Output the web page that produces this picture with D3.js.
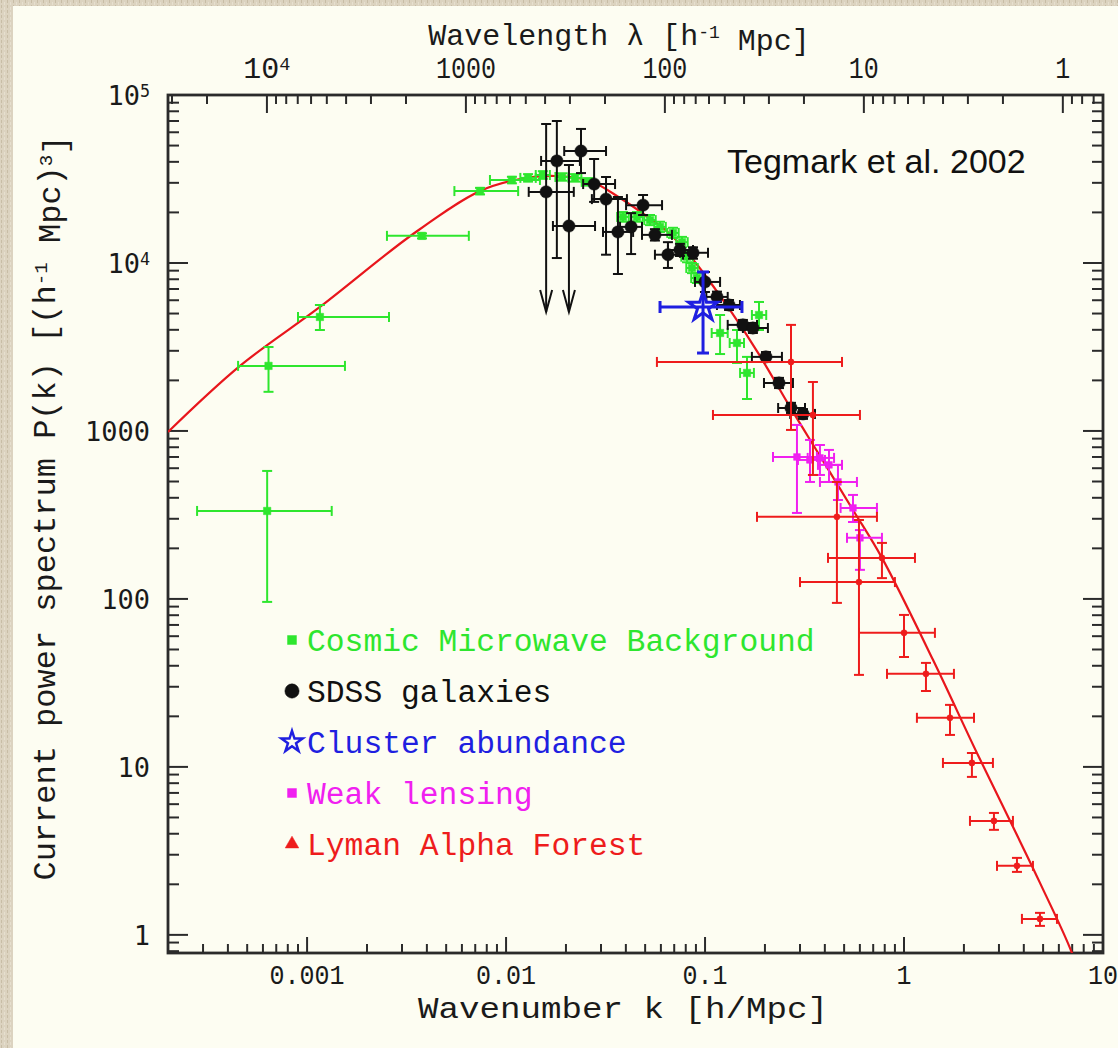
<!DOCTYPE html>
<html>
<head>
<meta charset="utf-8">
<script src="https://cdn.jsdelivr.net/npm/d3@7"></script>
<style>
  body { margin: 0; background: #d8cfbb; }
  svg { display: block; }
</style>
</head>
<body>
<svg id="chart" width="1118" height="1048"></svg>
<script>

// --- data: [k, kLow, kHigh, P, PLow, PHigh] ---

var cmbPoints = [
    [6.3e-4, 2.8e-4, 1.33e-3, 334, 96, 578],
    [6.4e-4, 4.5e-4, 1.55e-3, 2440, 1710, 3160],
    [1.16e-3, 9.0e-4, 2.58e-3, 4770, 3990, 5620],
    [3.78e-3, 2.52e-3, 6.5e-3, 14500, 14000, 15000],
    [7.4e-3, 5.5e-3, 0.0115, 26800, 25600, 28000],
    [0.0107, 8.3e-3, 0.0148, 31200, 29800, 32600],
    [0.0129, 0.0118, 0.0141, 32100, 30500, 33800],
    [0.0153, 0.0141, 0.0166, 33400, 31700, 35200],
    [0.0191, 0.0177, 0.0206, 32500, 30900, 34200],
    [0.0222, 0.0206, 0.0239, 32100, 30500, 33800],
    [0.0258, 0.0240, 0.0277, 30400, 28900, 32000],
    [0.0387, 0.0362, 0.0414, 18800, 17600, 20100],
    [0.0455, 0.0426, 0.0486, 18800, 17600, 20100],
    [0.0529, 0.0495, 0.0565, 18000, 16800, 19300],
    [0.0594, 0.0556, 0.0635, 16400, 15300, 17600],
    [0.069, 0.0646, 0.0737, 15100, 14100, 16200],
    [0.0766, 0.0717, 0.0818, 13300, 12400, 14300],
    [0.0812, 0.0760, 0.0868, 10900, 10100, 11800],
    [0.086, 0.0805, 0.0919, 9340, 8700, 10000],
    [0.091, 0.0852, 0.0972, 8140, 7600, 8700],
    [0.119, 0.108, 0.130, 3830, 2870, 4900],
    [0.1447, 0.133, 0.157, 3340, 2540, 3990],
    [0.1625, 0.150, 0.176, 2215, 1550, 2760],
    [0.1867, 0.172, 0.203, 4900, 3990, 5860]
];

// last column: 1 = upper limit (arrow)
var sdssPoints = [
    [0.0159, 0.0130, 0.0219, 26500, 5110, 67200, 1],
    [0.0180, 0.0150, 0.0235, 40500, 10700, 70000, 0],
    [0.0207, 0.0172, 0.0280, 16600, 5110, 38300, 1],
    [0.0238, 0.0196, 0.0318, 46400, 34300, 62800, 0],
    [0.0277, 0.0244, 0.0353, 29500, 23100, 41600, 0],
    [0.0318, 0.0270, 0.0405, 24000, 11200, 32500, 0],
    [0.0365, 0.0307, 0.0435, 15300, 8600, 24700, 0],
    [0.0425, 0.0374, 0.0482, 16400, 11300, 19800, 0],
    [0.0488, 0.0401, 0.0608, 22100, 19300, 25400, 0],
    [0.0560, 0.0482, 0.0682, 14700, 13600, 15900, 0],
    [0.0651, 0.0560, 0.0775, 11200, 9340, 13300, 0],
    [0.0748, 0.0651, 0.0870, 11950, 11000, 13000, 0],
    [0.0870, 0.0748, 0.1035, 11500, 10600, 12400, 0],
    [0.0999, 0.0890, 0.119, 7710, 6720, 8840, 0],
    [0.1148, 0.1015, 0.130, 6280, 5850, 6750, 0],
    [0.132, 0.1148, 0.1498, 5620, 5250, 6020, 0],
    [0.155, 0.130, 0.1824, 4280, 4000, 4580, 0],
    [0.174, 0.155, 0.207, 4100, 3830, 4390, 0],
    [0.2024, 0.172, 0.2435, 2760, 2580, 2950, 0],
    [0.2353, 0.1978, 0.2766, 1930, 1800, 2070, 0],
    [0.2704, 0.233, 0.318, 1370, 1280, 1470, 0],
    [0.3106, 0.268, 0.357, 1263, 1180, 1350, 0]
];

var clusterPoints = [
    [0.0977, 0.0594, 0.1533, 5470, 2910, 8840]
];

var lensingPoints = [
    [0.2897, 0.2195, 0.365, 700, 325, 1086],
    [0.3368, 0.293, 0.4007, 672, 497, 884],
    [0.378, 0.328, 0.445, 691, 547, 825],
    [0.4196, 0.3694, 0.488, 628, 497, 771],
    [0.4656, 0.378, 0.58, 497, 388, 628],
    [0.554, 0.48, 0.731, 348, 287, 416],
    [0.6005, 0.517, 0.7746, 231, 149, 257]
];

var lymanPoints = [
    [0.2704, 0.0573, 0.488, 2575, 1014, 4280],
    [0.3485, 0.1096, 0.6005, 1245, 547, 1957],
    [0.460, 0.1824, 0.731, 308, 94.7, 497],
    [0.7746, 0.4148, 1.135, 175.5, 133, 215.5],
    [0.5937, 0.30, 0.90, 126, 35.3, 295],
    [1.0, 0.594, 1.43, 62.8, 45.1, 80.3],
    [1.289, 0.821, 1.782, 35.8, 28.3, 41.6],
    [1.702, 1.161, 2.247, 19.6, 15.5, 23.4],
    [2.194, 1.569, 2.798, 10.56, 8.72, 12.1],
    [2.831, 2.145, 3.527, 4.77, 4.22, 5.32],
    [3.695, 2.932, 4.446, 2.575, 2.371, 2.873],
    [4.822, 3.914, 5.87, 1.245, 1.131, 1.352]
];

// model curve, traced
var modelK = [2.0e-4, 4.6e-4, 1.16e-3, 3.41e-3, 7.4e-3, 0.01175, 0.0176, 0.0264, 0.0374, 0.0499,
              0.0666, 0.089, 0.1334, 0.1888, 0.2672, 0.378, 0.554, 0.7746, 1.398, 2.325, 3.527, 4.822, 6.98, 7.6];
var modelP = [986, 2440, 5470, 14880, 26800, 31600, 32950, 30780, 24370, 19300,
              14880, 10140, 5250, 2796, 1390, 710, 338.6, 175.5, 43.4, 12.1, 4.40, 2.04, 0.78, 0.55];

var xTickLabels = [0.001, 0.01, 0.1, 1, 10];
var yTickLabels = [1, 10, 100, 1000, 1e4, 1e5];
var topTickLabels = [1e4, 1000, 100, 10, 1];

var legendNames = ['Cosmic Microwave Background', 'SDSS galaxies', 'Cluster abundance', 'Weak lensing', 'Lyman Alpha Forest'];
var legendColors = ['#2ee62e', '#111111', '#1f1fe0', '#f020f0', '#ee1c1c'];
var legendShapes = ['square', 'circle', 'star', 'square', 'triangle'];

// --- layout ---

var svg = d3.select('#chart');
var plotLeft = 168, plotRight = 1103, plotTop = 95, plotBottom = 953;
var axisColor = '#2b2b2b';

var x = d3.scaleLog().domain([2e-4, 10]).range([plotLeft, plotRight]);
var y = d3.scaleLog().domain([0.78, 1e5]).range([plotBottom, plotTop]);
// top axis: wavelength = 2 pi / k
var lam = d3.scaleLog().domain([2 * Math.PI / 2e-4, 2 * Math.PI / 10]).range([plotLeft, plotRight]);

/* background */

var defs = svg.append('defs');

var pat = defs.append('pattern')
    .attr('id', 'paper')
    .attr('width', 6).attr('height', 5)
    .attr('patternUnits', 'userSpaceOnUse');
pat.append('rect').attr('width', 6).attr('height', 5).attr('fill', '#dcd3c0');
pat.append('rect').attr('x', 1).attr('y', 0).attr('width', 1).attr('height', 3).attr('fill', '#c8bda6');
pat.append('rect').attr('x', 4).attr('y', 2).attr('width', 1).attr('height', 3).attr('fill', '#e6dfcf');

svg.append('rect')
    .attr('width', 1118).attr('height', 1048)
    .attr('fill', 'url(#paper)');

svg.append('rect')
    .attr('x', 13).attr('y', 6)
    .attr('width', 1105).attr('height', 1042)
    .attr('fill', '#fdfdf2');

defs.append('clipPath').attr('id', 'plotClip')
    .append('rect')
    .attr('x', plotLeft).attr('y', plotTop)
    .attr('width', plotRight - plotLeft).attr('height', plotBottom - plotTop);

function isMajor ( t ) {
    var l = Math.log10( t );
    return Math.abs( l - Math.round( l ) ) < 1e-6;
}

/* ticks */

var ticks = svg.append('g')
    .attr('stroke', axisColor)
    .attr('stroke-width', 2);

x.ticks().forEach(function ( t ) {
    var len = isMajor( t ) ? 16 : 9;
    ticks.append('line')
        .attr('x1', x( t )).attr('x2', x( t ))
        .attr('y1', plotBottom).attr('y2', plotBottom - len);
});

lam.ticks().forEach(function ( t ) {
    var len = isMajor( t ) ? 18 : 9;
    ticks.append('line')
        .attr('x1', lam( t )).attr('x2', lam( t ))
        .attr('y1', plotTop).attr('y2', plotTop + len);
});

y.ticks().forEach(function ( t ) {
    var len = isMajor( t ) ? 20 : 11;
    ticks.append('line')
        .attr('x1', plotLeft).attr('x2', plotLeft + len)
        .attr('y1', y( t )).attr('y2', y( t ));
    ticks.append('line')
        .attr('x1', plotRight).attr('x2', plotRight - len)
        .attr('y1', y( t )).attr('y2', y( t ));
});

svg.append('rect')
    .attr('x', plotLeft).attr('y', plotTop)
    .attr('width', plotRight - plotLeft).attr('height', plotBottom - plotTop)
    .attr('fill', 'none')
    .attr('stroke', axisColor)
    .attr('stroke-width', 2.8);

/* tick labels */

function labelText ( sel, v ) {
    if ( v >= 1e4 ) {
        sel.text('10');
        sel.append('tspan')
            .attr('dy', '-0.45em')
            .style('font-size', '0.62em')
            .text( Math.round( Math.log10( v ) ) );
    } else {
        sel.text( String( v ) );
    }
}

var tickFont = '"Liberation Mono", "DejaVu Sans Mono", monospace';

xTickLabels.forEach(function ( v ) {
    var t = svg.append('text')
        .attr('x', x( v )).attr('y', 984)
        .attr('text-anchor', 'middle')
        .style('font-family', tickFont)
        .style('font-size', '28px')
        .style('fill', '#1a1a1a')
        .attr('textLength', String( v ).length * 15)
        .attr('lengthAdjust', 'spacingAndGlyphs');
    labelText( t, v );
});

topTickLabels.forEach(function ( v ) {
    var t = svg.append('text')
        .attr('x', lam( v )).attr('y', 78)
        .attr('text-anchor', 'middle')
        .style('font-family', tickFont)
        .style('font-size', '30px')
        .style('fill', '#1a1a1a');
    labelText( t, v );
    if ( v < 1e4 ) {
        t.attr('textLength', String( v ).length * 15)
         .attr('lengthAdjust', 'spacingAndGlyphs');
    }
});

yTickLabels.forEach(function ( v ) {
    var t = svg.append('text')
        .attr('x', 150).attr('y', y( v ))
        .attr('dy', '0.36em')
        .attr('text-anchor', 'end')
        .style('font-family', '"DejaVu Sans Mono", monospace')
        .style('font-size', '27px')
        .style('fill', '#1a1a1a');
    labelText( t, v );
});

/* axis titles */

var topTitle = svg.append('text')
    .attr('x', 619).attr('y', 45)
    .attr('text-anchor', 'middle')
    .style('font-family', tickFont)
    .style('font-size', '30px')
    .style('fill', '#1a1a1a')
    .text('Wavelength \u03bb [h');
topTitle.append('tspan').attr('dy', '-0.4em').style('font-size', '0.6em').text('-1');
topTitle.append('tspan').attr('dy', '0.4em').text(' Mpc]');

svg.append('text')
    .attr('x', 623).attr('y', 1018)
    .attr('text-anchor', 'middle')
    .style('font-family', tickFont)
    .style('font-size', '30px')
    .style('fill', '#1a1a1a')
    .attr('textLength', 410)
    .attr('lengthAdjust', 'spacingAndGlyphs')
    .text('Wavenumber k [h/Mpc]');

var yTitle = svg.append('text')
    .attr('transform', 'translate(55,508) rotate(-90)')
    .attr('text-anchor', 'middle')
    .style('font-family', tickFont)
    .style('font-size', '32px')
    .style('fill', '#1a1a1a')
    .text('Current power spectrum P(k) [(h');
yTitle.append('tspan').attr('dy', '-0.4em').style('font-size', '0.6em').text('-1');
yTitle.append('tspan').attr('dy', '0.4em').text(' Mpc)');
yTitle.append('tspan').attr('dy', '-0.4em').style('font-size', '0.6em').text('3');
yTitle.append('tspan').attr('dy', '0.4em').text(']');

svg.append('text')
    .attr('x', 727).attr('y', 173)
    .style('font-family', '"Liberation Sans", Arial, sans-serif')
    .style('font-size', '34px')
    .style('fill', '#111')
    .text('Tegmark et al. 2002');

/* data */

var plot = svg.append('g').attr('clip-path', 'url(#plotClip)');

var line = d3.line()
    .x(function ( d ) { return x( d[0] ); })
    .y(function ( d ) { return y( d[1] ); })
    .curve( d3.curveCatmullRom );

plot.append('path')
    .datum( d3.zip( modelK, modelP ) )
    .attr('d', line)
    .attr('fill', 'none')
    .attr('stroke', '#e8161c')
    .attr('stroke-width', 2.2);

function errorBars ( data, color, width, cap ) {

    var g = plot.append('g')
        .attr('stroke', color)
        .attr('stroke-width', width)
        .attr('fill', 'none');

    data.forEach(function ( d ) {
        var cx = x( d[0] ), cy = y( d[3] );
        var x0 = x( d[1] ), x1 = x( d[2] );
        var y0 = y( d[4] ), y1 = y( d[5] );
        var limit = d[6] === 1;

        g.append('line').attr('x1', x0).attr('x2', x1).attr('y1', cy).attr('y2', cy);
        g.append('line').attr('x1', x0).attr('x2', x0).attr('y1', cy - cap).attr('y2', cy + cap);
        g.append('line').attr('x1', x1).attr('x2', x1).attr('y1', cy - cap).attr('y2', cy + cap);
        g.append('line').attr('x1', cx).attr('x2', cx).attr('y1', y0).attr('y2', y1);
        g.append('line').attr('x1', cx - cap).attr('x2', cx + cap).attr('y1', y1).attr('y2', y1);

        if ( limit ) {
            g.append('path')
                .attr('d', 'M' + (cx - 6) + ',' + (y0 - 22) + 'L' + cx + ',' + y0 + 'L' + (cx + 6) + ',' + (y0 - 22));
        } else {
            g.append('line').attr('x1', cx - cap).attr('x2', cx + cap).attr('y1', y0).attr('y2', y0);
        }
    });

    return g;
}

var shapeTypes = { square: d3.symbolSquare, circle: d3.symbolCircle, triangle: d3.symbolTriangle, star: d3.symbolStar };

function markers ( data, color, shape, size ) {

    var sym = d3.symbol().type( shapeTypes[ shape ] ).size( size );

    plot.append('g').selectAll('path')
        .data( data )
        .enter().append('path')
        .attr('transform', function ( d ) { return 'translate(' + x( d[0] ) + ',' + y( d[3] ) + ')'; })
        .attr('d', sym)
        .attr('fill', shape === 'star' ? 'none' : color)
        .attr('stroke', color)
        .attr('stroke-width', shape === 'star' ? 3 : 0.5);
}

errorBars( cmbPoints, legendColors[0], 2, 5 );
markers( cmbPoints, legendColors[0], 'square', 55 );

errorBars( sdssPoints, legendColors[1], 2, 5 );
markers( sdssPoints, legendColors[1], 'circle', 120 );

errorBars( clusterPoints, legendColors[2], 3, 6 );
markers( clusterPoints, legendColors[2], 'star', 260 );

errorBars( lensingPoints, legendColors[3], 2, 5 );
markers( lensingPoints, legendColors[3], 'square', 45 );

errorBars( lymanPoints, legendColors[4], 2, 5 );
markers( lymanPoints, legendColors[4], 'circle', 30 );

/* legend */

var legend = svg.append('g');

legendNames.forEach(function ( name, i ) {

    var ly = 640 + i * 51;
    var shape = legendShapes[i];

    var sym = d3.symbol()
        .type( shapeTypes[ shape ] )
        .size( shape === 'circle' ? 160 : shape === 'star' ? 140 : 80 );

    legend.append('path')
        .attr('transform', 'translate(292,' + ly + ')')
        .attr('d', sym)
        .attr('fill', shape === 'star' ? 'none' : legendColors[i])
        .attr('stroke', legendColors[i])
        .attr('stroke-width', shape === 'star' ? 2.5 : 0.5);

    legend.append('text')
        .attr('x', 307).attr('y', ly)
        .attr('dy', '0.35em')
        .style('font-family', '"Liberation Mono", monospace')
        .style('font-size', '31px')
        .style('fill', legendColors[i])
        .attr('textLength', name.length * 18.8)
        .attr('lengthAdjust', 'spacingAndGlyphs')
        .text( name );
});

</script>
</body>
</html>
